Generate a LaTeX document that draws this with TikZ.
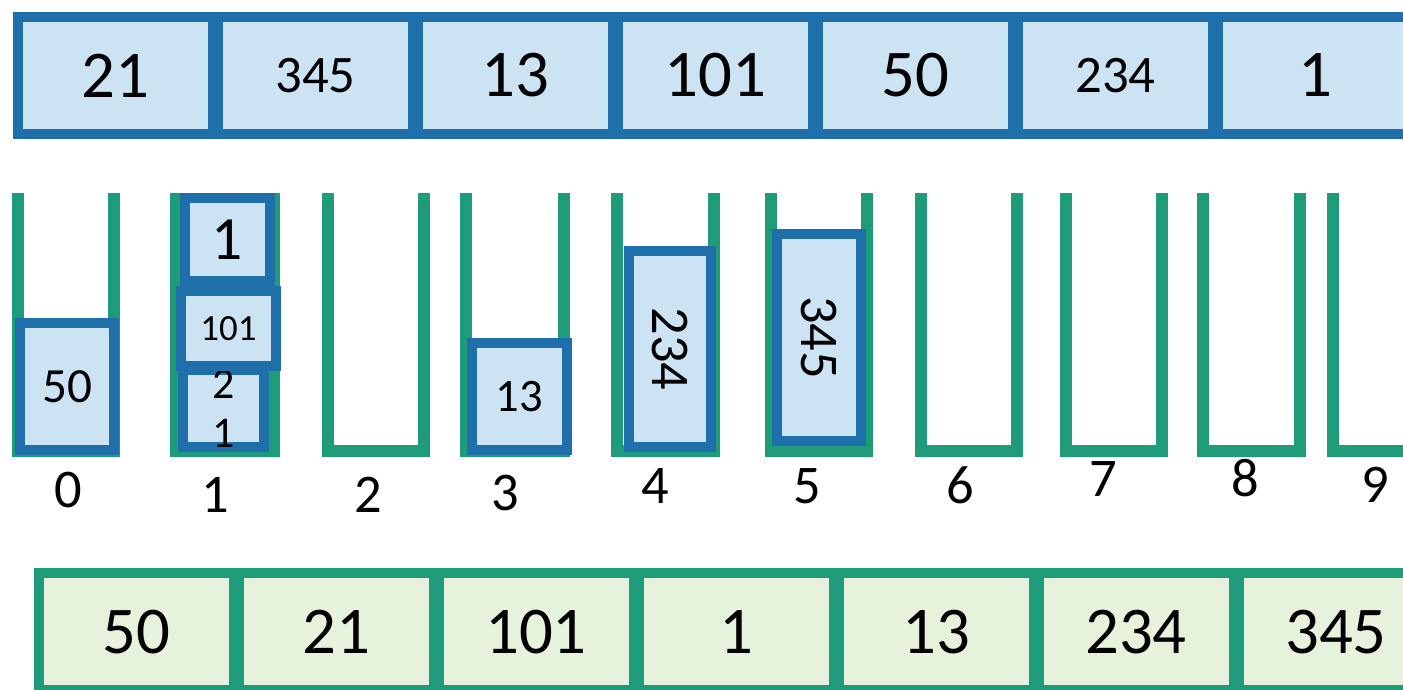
\documentclass[tikz,border=0pt]{standalone}
\usepackage{fontspec}
\setmainfont{Carlito}

\definecolor{keyblue}{RGB}{31,112,170}
\definecolor{keyfill}{RGB}{204,227,244}
\definecolor{bktgreen}{RGB}{30,156,122}
\definecolor{outfill}{RGB}{230,242,219}

\tikzset{
  incell/.style={draw=keyblue, fill=keyfill, line width=0.2cm,
    minimum width=3.9cm, minimum height=2.34cm, inner sep=0pt,
    font=\fontsize{38}{40}\selectfont},
  outcell/.style={incell, draw=bktgreen, fill=outfill},
  item/.style={draw=keyblue, fill=keyfill, line width=0.2cm, inner sep=0pt},
  bucket/.style={draw=bktgreen, line width=0.24cm},
  digit/.style={font=\fontsize{31}{33}\selectfont}
}

\begin{document}
\begin{tikzpicture}
   \useasboundingbox (0,0) rectangle (28.06,13.8);

   % unsorted keys
   \path (2.31,12.29) node[incell] (in0) {21};
   \path (6.31,12.29) node[incell, font=\fontsize{30}{32}\selectfont] (in1) {345};
   \path (10.31,12.29) node[incell] (in2) {13};
   \path (14.31,12.29) node[incell] (in3) {101};
   \path (18.31,12.29) node[incell] (in4) {50};
   \path (22.31,12.29) node[incell, font=\fontsize{30}{32}\selectfont] (in5) {234};
   \path (26.31,12.29) node[incell] (in6) {1};

   % the ten buckets
   \draw[bucket] (0.36,9.94) -- (0.36,4.78) -- (2.28,4.78) -- (2.28,9.94);
   \draw[bucket] (3.52,9.94) -- (3.52,4.78) -- (5.48,4.78) -- (5.48,9.94);
   \draw[bucket] (6.56,9.94) -- (6.56,4.78) -- (8.48,4.78) -- (8.48,9.94);
   \draw[bucket] (9.32,9.94) -- (9.32,4.78) -- (11.28,4.78) -- (11.28,9.94);
   \draw[bucket] (12.34,9.94) -- (12.34,4.78) -- (14.28,4.78) -- (14.28,9.94);
   \draw[bucket] (15.42,9.94) -- (15.42,4.78) -- (17.34,4.78) -- (17.34,9.94);
   \draw[bucket] (18.42,9.94) -- (18.42,4.78) -- (20.34,4.78) -- (20.34,9.94);
   \draw[bucket] (21.32,9.94) -- (21.32,4.78) -- (23.24,4.78) -- (23.24,9.94);
   \draw[bucket] (24.06,9.94) -- (24.06,4.78) -- (26.00,4.78) -- (26.00,9.94);
   \draw[bucket] (26.66,9.94) -- (26.66,4.78) -- (28.60,4.78) -- (28.60,9.94);

   % bucket numbers
   \path (1.36,4.00) node[digit] (n0) {0};
   \path (4.30,3.90) node[digit] (n1) {1};
   \path (7.36,3.90) node[digit] (n2) {2};
   \path (10.10,3.94) node[digit] (n3) {3};
   \path (13.10,4.08) node[digit] (n4) {4};
   \path (16.14,4.08) node[digit] (n5) {5};
   \path (19.20,4.10) node[digit] (n6) {6};
   \path (22.06,4.22) node[digit] (n7) {7};
   \path (24.90,4.24) node[digit] (n8) {8};
   \path (27.50,4.10) node[digit] (n9) {9};

   % keys dropped into their buckets
   \path (1.34,6.07) node[item, minimum width=1.87cm, minimum height=2.54cm,
     font=\fontsize{28}{30}\selectfont] (k50) {50};
   \path (4.47,5.63) node[item, minimum width=1.62cm, minimum height=1.54cm,
     align=center, font=\fontsize{25}{28}\selectfont] (k21) {2\\1};
   \path (4.57,7.23) node[item, minimum width=1.9cm, minimum height=1.5cm,
     font=\fontsize{21}{23}\selectfont] (k101) {101};
   \path (4.55,9.01) node[item, minimum width=1.7cm, minimum height=1.66cm,
     font=\fontsize{35}{37}\selectfont] (k1) {1};
   \path (10.39,5.87) node[item, minimum width=1.9cm, minimum height=2.14cm,
     font=\fontsize{26.5}{28}\selectfont] (k13) {13};
   \path (13.40,6.82) node[item, rotate=-90, minimum width=3.92cm, minimum height=1.64cm,
     font=\fontsize{31}{33}\selectfont] (k234) {234};
   \path (16.38,7.05) node[item, rotate=-90, minimum width=4.14cm, minimum height=1.68cm,
     font=\fontsize{31}{33}\selectfont] (k345) {345};

   % keys read back out
   \path (2.72,1.16) node[outcell] (out0) {50};
   \path (6.72,1.16) node[outcell] (out1) {21};
   \path (10.72,1.16) node[outcell] (out2) {101};
   \path (14.72,1.16) node[outcell] (out3) {1};
   \path (18.72,1.16) node[outcell] (out4) {13};
   \path (22.72,1.16) node[outcell] (out5) {234};
   \path (26.72,1.16) node[outcell] (out6) {345};
\end{tikzpicture}
\end{document}
